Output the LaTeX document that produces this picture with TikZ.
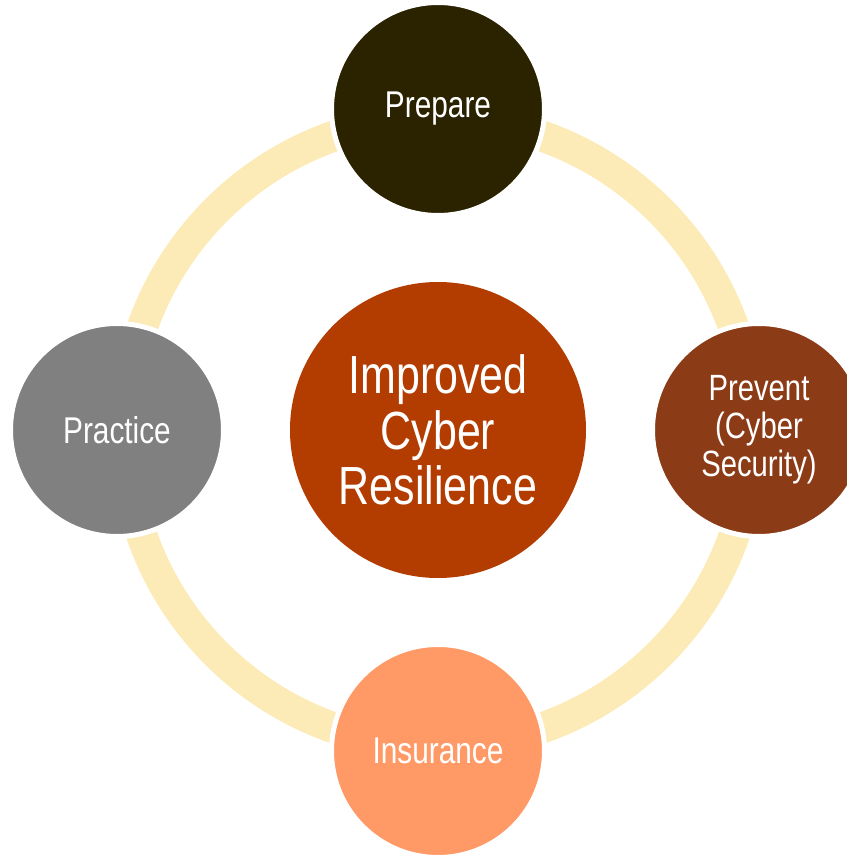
\documentclass[tikz,border=0pt]{standalone}
\usepackage{fontspec}
\setmainfont{Liberation Sans}[FakeStretch=0.8]
\usepackage{xcolor}
\usepackage{tikz}
\usetikzlibrary{positioning}
\definecolor{ringyellow}{HTML}{FCEBB6}
\definecolor{hubrust}{HTML}{B33C00}
\definecolor{prepdark}{HTML}{2B2300}
\definecolor{prevbrown}{HTML}{8C3B17}
\definecolor{pracgray}{HTML}{808080}
\definecolor{insorange}{HTML}{FF9966}
\tikzset{
  every picture/.style = {
    node distance = 8.025cm,
  }
  ,
  ring/.style = {
    draw = ringyellow,
    line width = 0.775cm
  }
  , % the four outer circles
  stage/.style = {
    circle,
    draw = white,
    line width = 0.125cm,
    minimum size = 5.325cm,
    inner sep = 0pt,
    text = white,
    align = center,
    font = \fontsize{26.5}{27}\selectfont
  }
  , % the middle circle
  hub/.style = {
    circle,
    fill = hubrust,
    minimum size = 7.4cm,
    inner sep = 0pt,
    text = white,
    align = center,
    font = \fontsize{38.2}{39.5}\selectfont
  }
}
\begin{document}
\begin{tikzpicture}
    \useasboundingbox (-10.95,10.8) rectangle (10.2,-10.675);
    \draw [ring] (0,0) circle (7.84cm);
    \node [hub] (hub) at (0,0.05) {Improved\\Cyber\\Resilience};
    \node [stage, fill = prepdark, above = of hub.center, anchor = center] (prepare) {Prepare};
    \node [stage, fill = prevbrown, right = of hub.center, anchor = center,
           font = \fontsize{26}{27}\selectfont] (prevent) {Prevent\\(Cyber\\Security)};
    \node [stage, fill = insorange, below = of hub.center, anchor = center] (insurance) {Insurance};
    \node [stage, fill = pracgray, left = of hub.center, anchor = center] (practice) {Practice};
\end{tikzpicture}
\end{document}
